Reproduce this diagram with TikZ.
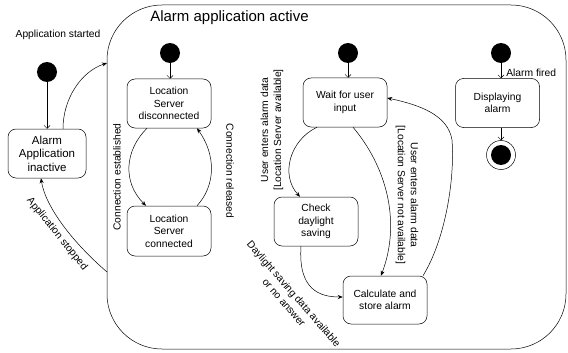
\documentclass[tikz,border=0pt]{standalone}
\usepackage{fontspec}
\setmainfont{Liberation Sans}
\usetikzlibrary{arrows.meta}
\begin{document}
\begin{tikzpicture}[x=1pt,y=-1pt,
  line width=0.5pt,
  statebox/.style={draw, rounded corners=8pt, minimum width=84pt, minimum height=49pt, inner sep=1pt, align=center, font=\fontsize{10.3}{12.5}\selectfont},
  initdot/.style={circle, fill=black, minimum size=20pt, inner sep=0pt},
  lbl/.style={font=\fontsize{10.3}{13}\selectfont, align=center, inner sep=0pt},
  trans/.style={-{Stealth[length=5pt,width=4pt]}},
  openarr/.style={-{Straight Barb[length=3pt,width=6pt]}}]
\useasboundingbox (0,0) rectangle (568,353);
% container
\draw[rounded corners=55pt] (107,5) rectangle (566,349);
\node[anchor=west, inner sep=0pt, font=\fontsize{15}{17}\selectfont] (title) at (150,18) {Alarm application active};
% left part
\node[lbl] (startlbl) at (58,35) {Application started};
\node[initdot] (i0) at (47,72) {};
\node[statebox, minimum width=78pt, font=\fontsize{11.5}{13.5}\selectfont] (inact) at (47,153.5) {Alarm\\Application\\inactive};
\coordinate (entry) at (107,63);
\coordinate (exitp) at (107,272);
\draw[openarr] (i0) -- (inact.north);
\draw[trans] ([xshift=16pt]inact.north) .. controls (63,100) and (80,72) .. (entry);
\draw[trans] (exitp) .. controls (70,240) and (45,205) .. ([xshift=-6pt]inact.south);
\node[lbl, rotate=-51] (stoplbl) at (57,234) {Application stopped};
% location server
\node[initdot] (i1) at (170,53) {};
\node[statebox] (disc) at (169,103.5) {Location\\Server\\disconnected};
\node[statebox, minimum height=50pt] (conn) at (169,231) {Location\\Server\\connected};
\draw[openarr] (i1) -- (disc.north -| i1);
\draw[trans] ([xshift=-22pt]disc.south) .. controls (125,150) and (122,182) .. ([xshift=-23pt]conn.north);
\draw[trans] ([xshift=28pt]conn.north) .. controls (216,185) and (216,155) .. ([xshift=28pt]disc.south);
\node[lbl, rotate=90] (estlbl) at (117,177) {Connection established};
\node[lbl, rotate=-90] (rellbl) at (230,171) {Connection released};
% alarm entry
\node[initdot] (i2) at (348,53) {};
\node[statebox] (wait) at (345,102.5) {Wait for user\\input};
\node[statebox] (check) at (316,221.5) {Check\\daylight\\saving};
\node[statebox, minimum height=48pt] (calc) at (385,300) {Calculate and\\store alarm};
\draw[openarr] (i2) -- (wait.north -| i2);
\draw[trans] ([xshift=-28pt]wait.south) .. controls (290,140) and (280,175) .. ([xshift=-16pt]check.north);
\draw[trans] ([xshift=8pt]wait.south) .. controls (385,165) and (402,220) .. ([xshift=-4pt]calc.north);
\draw[trans] ([xshift=-15pt]check.south) .. controls (298,290) and (320,297) .. ([yshift=3pt]calc.west);
\draw[trans] ([xshift=38pt]calc.north) .. controls (445,240) and (455,180) .. (452,140) .. controls (448,115) and (420,105) .. ([yshift=4.5pt]wait.east);
\node[lbl, rotate=90] (availlbl) at (272,130) {User enters alarm data\\{[Location Server available]}};
\node[lbl, rotate=-90] (navaillbl) at (407,195) {User enters alarm data\\{[Location Server not available]}};
\node[lbl, rotate=-49] (dstlbl) at (289,298) {Daylight saving data available\\or no answer};
% displaying alarm
\node[initdot] (i3) at (501,53) {};
\node[statebox] (disp) at (497.5,103) {Displaying\\alarm};
\node[circle, draw, minimum size=29pt, inner sep=0pt] (fin) at (501,155) {};
\node[initdot] (fininner) at (fin.center) {};
\draw[openarr] (i3) -- (disp.north -| i3);
\draw[openarr] (disp.south -| fin) -- (fin.north);
\node[lbl, anchor=west] (firedlbl) at (506,73) {Alarm fired};
\end{tikzpicture}
\end{document}
